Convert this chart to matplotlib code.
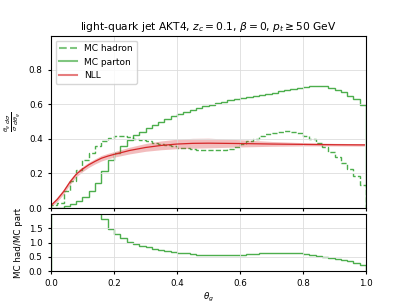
import numpy as np
import matplotlib
matplotlib.use('Agg')
import matplotlib.pyplot as plt

# histogram bin edges (50 bins of 0.02)
edges = np.round(np.arange(0, 1.0001, 0.02), 2)

mc_parton = [0.0, 0.002, 0.01, 0.022, 0.04, 0.065, 0.10, 0.145, 0.215, 0.275,
             0.32, 0.36, 0.395, 0.42, 0.44, 0.46, 0.48, 0.498, 0.515, 0.53,
             0.545, 0.556, 0.567, 0.578, 0.588, 0.597, 0.606, 0.614, 0.622, 0.629,
             0.635, 0.641, 0.647, 0.654, 0.661, 0.668, 0.676, 0.683, 0.69, 0.695,
             0.70, 0.703, 0.706, 0.703, 0.695, 0.685, 0.67, 0.65, 0.63, 0.596]

mc_hadron = [0.02, 0.03, 0.10, 0.155, 0.22, 0.28, 0.32, 0.36, 0.39, 0.405,
             0.416, 0.414, 0.408, 0.402, 0.395, 0.388, 0.377, 0.37, 0.362, 0.356,
             0.35, 0.345, 0.341, 0.337, 0.335, 0.334, 0.334, 0.337, 0.343, 0.355,
             0.37, 0.385, 0.40, 0.415, 0.428, 0.436, 0.441, 0.443, 0.44, 0.432,
             0.418, 0.40, 0.378, 0.355, 0.322, 0.295, 0.262, 0.225, 0.185, 0.135]

# NLL curve with uncertainty band
nll_theta = [0.003, 0.02, 0.04, 0.06, 0.08, 0.10, 0.12, 0.14, 0.16, 0.18, 0.20,
             0.25, 0.30, 0.35, 0.40, 0.45, 0.50, 0.60, 0.70, 0.80, 0.90, 0.995]
nll_central = [0.02, 0.05, 0.095, 0.15, 0.195, 0.225, 0.25, 0.27, 0.288, 0.30, 0.31,
               0.333, 0.35, 0.362, 0.37, 0.374, 0.375, 0.373, 0.37, 0.368, 0.366, 0.365]
nll_low = [0.012, 0.037, 0.08, 0.135, 0.18, 0.21, 0.235, 0.255, 0.272, 0.284, 0.294,
           0.313, 0.328, 0.337, 0.343, 0.346, 0.348, 0.353, 0.357, 0.359, 0.359, 0.358]
nll_high = [0.03, 0.065, 0.11, 0.165, 0.21, 0.24, 0.265, 0.285, 0.304, 0.316, 0.326,
            0.352, 0.373, 0.388, 0.398, 0.403, 0.404, 0.395, 0.385, 0.378, 0.374, 0.372]

ratio = np.array(mc_hadron) / np.maximum(np.array(mc_parton), 1e-6)

plt.rcParams['font.size'] = 6.3
plt.rcParams['xtick.major.size'] = 2.5
plt.rcParams['ytick.major.size'] = 2.5

fig = plt.figure(figsize=(4.07, 3.05), dpi=100)
ax1 = fig.add_axes([0.1253, 0.318, 0.774, 0.564])
ax2 = fig.add_axes([0.1253, 0.111, 0.774, 0.187])

ax1.stairs(mc_hadron, edges, color='C2', ls='--', lw=1.0, alpha=0.85, label='MC hadron')
ax1.stairs(mc_parton, edges, color='C2', ls='-', lw=1.0, alpha=0.85, label='MC parton')
ax1.fill_between(nll_theta, nll_low, nll_high, color='C3', alpha=0.3, lw=0)
ax1.plot(nll_theta, nll_central, color='C3', lw=0.9, label='NLL')

ax1.set_xlim(0, 1)
ax1.set_ylim(0, 0.995)
ax1.set_yticks([0.0, 0.2, 0.4, 0.6, 0.8])
ax1.set_xticks([0.0, 0.2, 0.4, 0.6, 0.8, 1.0])
ax1.tick_params(labelbottom=False)
ax1.grid(True, color='#dddddd', lw=0.6)
ax1.set_ylabel(r'$\frac{\theta_g}{\sigma}\frac{d\sigma}{d\theta_g}$', fontsize=6.5)
ax1.set_title(r'light-quark jet AKT4, $z_c = 0.1$, $\beta = 0$, $p_t \geq 50$ GeV', fontsize=7.7, pad=4)
leg = ax1.legend(loc='upper left', fontsize=6.5, framealpha=0.8)
for h in leg.get_lines():
    h.set_alpha(0.6)
    h.set_linewidth(1.5)

ax2.stairs(ratio, edges, color='C2', lw=1.0, alpha=0.85)
ax2.set_xlim(0, 1)
ax2.set_ylim(0, 2.0)
ax2.set_yticks([0.0, 0.5, 1.0, 1.5])
ax2.set_xticks([0.0, 0.2, 0.4, 0.6, 0.8, 1.0])
ax2.grid(True, color='#dddddd', lw=0.6)
ax2.set_ylabel('MC had/MC part')
ax2.set_xlabel(r'$\theta_g$', labelpad=2)

fig.savefig('out.png', dpi=100)
